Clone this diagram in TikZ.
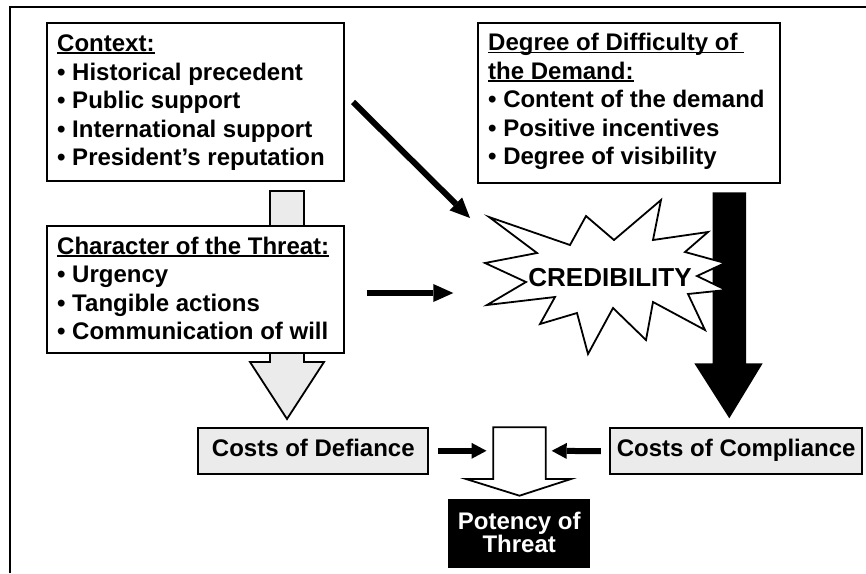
\documentclass[tikz,border=0pt]{standalone}
\usepackage{fontspec}
\setmainfont{Liberation Sans}
\usetikzlibrary{arrows.meta}
\definecolor{boxgray}{RGB}{235,235,235}
\newcommand\myul[1]{\leavevmode\setbox0=\hbox{#1}\rlap{\rule[-2.4pt]{\wd0}{1.6pt}}\box0}
\tikzset{
  txt/.style={font=\fontsize{24}{28.5}\selectfont\bfseries},
  listbox/.style={draw, line width=1.8pt, fill=white, anchor=north west,
    inner xsep=10pt, inner ysep=0pt, align=flush left, txt},
  costbox/.style={draw, line width=1.8pt, fill=boxgray, inner sep=0pt, txt,
    text height=17pt, text depth=6pt, minimum height=46.3pt},
  bigconn/.style={line width=6pt, -{Triangle[length=20pt,width=18pt,line width=0pt]}},
  smallconn/.style={line width=6pt, -{Triangle[length=15pt,width=16pt,line width=0pt]}},
  blockarrow/.style={line width=1.8pt, line join=miter},
  starburst/.style={draw, line width=1.8pt, fill=white, line join=miter}
}
\begin{document}
\begin{tikzpicture}[x=1pt,y=-1pt]
\useasboundingbox (0,0) rectangle (866,573);
\fill[white] (0,0) rectangle (866,573);
% outer frame
\draw[line width=2pt] (10,573) -- (10,7) -- (866,7);

% gray block arrow (behind character box)
\draw[blockarrow, fill=boxgray] (270,191) -- (304,191) -- (304,362) -- (324,362)
  -- (287,419) -- (250,362) -- (270,362) -- cycle;

% list boxes
\node[listbox, text width=277pt, text height=29pt, text depth=129.3pt] (ctx) at (46.3,21.7)
  {\myul{Context:}\\%
   • Historical precedent\\%
   • Public support\\%
   • International support\\%
   • President’s reputation};
\node[listbox, text width=277pt, text height=28.3pt, text depth=98.7pt] (chr) at (46.3,225)
  {\myul{Character of the Threat:}\\%
   • Urgency\\%
   • Tangible actions\\%
   • Communication of will};
\node[listbox, text width=281.7pt, text height=28.3pt, text depth=131.7pt] (deg) at (477.3,21.7)
  {\myul{Degree of Difficulty of\ }\\%
   \myul{the Demand:}\\%
   • Content of the demand\\%
   • Positive incentives\\%
   • Degree of visibility};

% black block arrow
\fill[black] (712.7,192.3) -- (746,192.3) -- (746,363.3) -- (762.7,363.3)
  -- (729.3,418.3) -- (694.3,363.3) -- (712.7,363.3) -- cycle;

% starburst
\path[starburst] (489,217) -- (570,245) -- (586,216) -- (614,240) -- (661,200)
  -- (653,240) -- (708,232) -- (685,252) -- (725,263) -- (697,276) -- (726,290)
  -- (688,294) -- (705,330) -- (653,302) -- (646,340) -- (613,308) -- (588,354)
  -- (577,313) -- (540,324) -- (555,297) -- (487,305) -- (526,282) -- (485,263)
  -- (537,253) -- cycle;
\node[font=\fontsize{26}{30}\selectfont\bfseries, inner sep=0pt, anchor=base] (cred) at (610,286) {CREDIBILITY};

% cost boxes
\node[costbox, minimum width=230pt] (cod) at (313.3,450.8) {Costs of Defiance};
\node[costbox, minimum width=252.3pt] (coc) at (736.2,451.2) {Costs of Compliance};

% white block arrow
\draw[blockarrow, fill=white] (493.3,427.3) -- (545.7,427.3) -- (545.7,479) -- (571,479)
  -- (519.5,495.7) -- (466,479) -- (493.3,479) -- cycle;

% potency box
\node[draw, line width=1.8pt, fill=black, text=white, inner sep=0pt, anchor=north,
  text width=139.7pt, align=flush center, font=\fontsize{24}{23.5}\selectfont\bfseries,
  text height=29.3pt, text depth=37.7pt] (pot) at (519.2,499) {Potency of\\Threat};

% connectors
\coordinate (d1) at (353,102);
\coordinate (d2) at (470,218);
\coordinate (h1) at (366.7,293);
\coordinate (h2) at (453.3,293);
\coordinate (l2) at (486.5,450.8);
\coordinate (r2) at (551.7,450.8);
\draw[bigconn] (d1) -- (d2);
\draw[bigconn] (h1) -- (h2);
\draw[smallconn] ([xshift=8.7pt]cod.east) -- (l2);
\draw[smallconn] ([xshift=-8.3pt]coc.west) -- (r2);
\end{tikzpicture}
\end{document}
